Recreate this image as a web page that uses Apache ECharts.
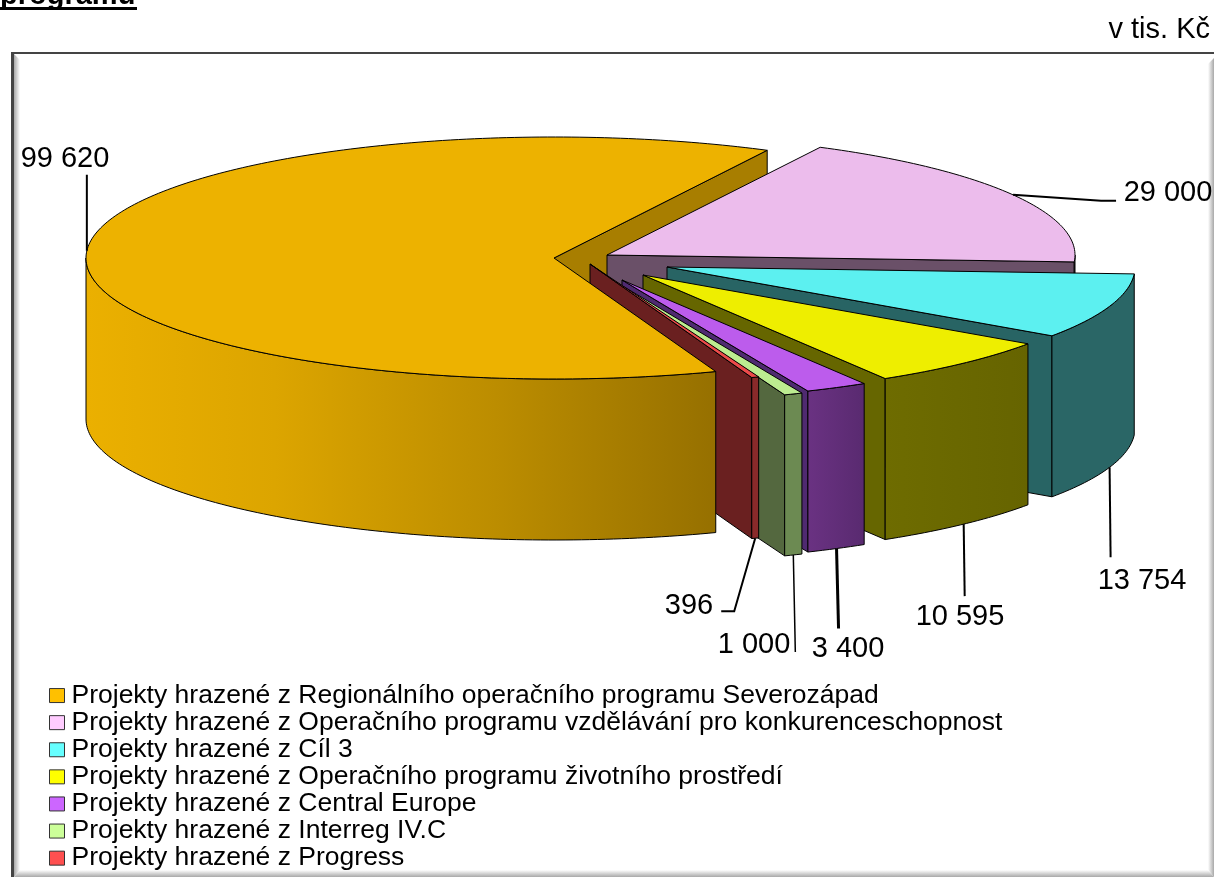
<!DOCTYPE html>
<html>
<head>
<meta charset="utf-8">
<style>
  html, body { margin: 0; padding: 0; background: #fff; overflow: hidden; }
  #main { width: 1214px; height: 877px; }
</style>
<script src="https://cdn.jsdelivr.net/npm/echarts@6/dist/echarts.min.js"></script>
</head>
<body>
<div id="main"></div>
<script>
  var categories = [
    'Projekty hrazené z Regionálního operačního programu Severozápad',
    'Projekty hrazené z Operačního programu vzdělávání pro konkurenceschopnost',
    'Projekty hrazené z Cíl 3',
    'Projekty hrazené z Operačního programu životního prostředí',
    'Projekty hrazené z Central Europe',
    'Projekty hrazené z Interreg IV.C',
    'Projekty hrazené z Progress'
  ];
  var values = [99620, 29000, 13754, 10595, 3400, 1000, 396];

  // colours: legend box, top face, cut face, outer wall left/right
  var legendColors = ['#FFC000', '#FFCCFF', '#66FFFF', '#FFFF00', '#CC66FF', '#CCFF99', '#FF5050'];
  var topColors = ['#EDB200', '#ECBCEC', '#5CF0F0', '#EEEE00', '#BC5CEC', '#BCEC90', '#EC4A4A'];
  var faceColors = ['#A87E00', '#6A5068', '#286464', '#666600', '#4F2A70', '#54683F', '#6A2020'];
  var wallColors = [
    ['#EBB000', '#967000'], ['#6A5068', '#6A5068'], ['#2A6666', '#2A6666'], ['#6E6C00', '#666400'],
    ['#6A3282', '#592A70'], ['#6C8A52', '#6C8A52'], ['#8A2A2A', '#8A2A2A']
  ];

  // pie geometry
  var RX = 468, RY = 121, DEPTH = 161;
  var START_PARAM = 62.9; // where the second slice starts, degrees, going clockwise
  var apexes = [[554, 258], [607, 255], [667, 267], [643, 275], [622, 280], [616, 282], [590, 264]];

  // leader lines (offset from the point on the rim) and label centres
  var leaders = [
    [[0, -76]],
    [[88, 6], [103, 6]],
    [[1, 90]],
    [[1, 72]],
    [[2, 80]],
    [[2, 97]],
    [[-21, 73], [-34, 73]]
  ];
  var leaderWidths = [2, 2, 2, 2, 3, 1.5, 2];
  var labelCenters = [[65, 159], [1168, 193], [1142, 581], [960, 617], [848, 649], [754, 645], [689, 606]];

  var total = values.reduce(function (a, b) { return a + b; }, 0);

  // param angles of each slice, from values; [from, to] going clockwise
  var ranges = [];
  var cur = START_PARAM;
  for (var i = 1; i < values.length; i++) {
    ranges[i] = [cur, cur - values[i] / total * 360];
    cur = ranges[i][1];
  }
  ranges[0] = [cur, cur - values[0] / total * 360];

  function rimPoint(apex, deg, drop) {
    var r = deg * Math.PI / 180;
    return [apex[0] + RX * Math.cos(r), apex[1] - RY * Math.sin(r) + (drop || 0)];
  }

  function arcPoints(apex, from, to, drop) {
    var pts = [];
    var n = Math.max(2, Math.ceil(Math.abs(to - from)));
    for (var k = 0; k <= n; k++) pts.push(rimPoint(apex, from + (to - from) * k / n, drop));
    return pts;
  }

  function poly(points, fill) {
    return {
      type: 'polygon',
      shape: { points: points },
      style: { fill: fill, stroke: '#000', lineWidth: 1 }
    };
  }

  function formatValue(v) {
    return String(v).replace(/\B(?=(\d{3})+$)/g, ' ');
  }

  function cutFace(idx) {
    var apex = apexes[idx];
    var end = ranges[idx][1];
    return poly([apex, rimPoint(apex, end), rimPoint(apex, end, DEPTH), [apex[0], apex[1] + DEPTH]], faceColors[idx]);
  }

  function sliceItem(idx) {
    var apex = apexes[idx];
    var from = ranges[idx][0], to = ranges[idx][1];
    var children = [];
    if (idx !== 0) children.push(cutFace(idx));

    // outer wall: only the part of the rim facing the viewer (param -180..0)
    var wFrom = Math.min(from, 0), wTo = Math.max(to, -180);
    var upper = arcPoints(apex, wFrom, wTo, 0);
    var lower = arcPoints(apex, wTo, wFrom, DEPTH);
    var xs = upper.map(function (p) { return p[0]; });
    var x0 = Math.min.apply(null, xs), x1 = Math.max.apply(null, xs);
    children.push(poly(upper.concat(lower), {
      type: 'linear', x: x0, y: 0, x2: x1, y2: 0, global: true,
      colorStops: idx === 0
        ? [{ offset: 0, color: wallColors[0][0] }, { offset: 0.3, color: '#DCA500' }, { offset: 0.65, color: '#BC8D00' }, { offset: 1, color: wallColors[0][1] }]
        : [{ offset: 0, color: wallColors[idx][0] }, { offset: 1, color: wallColors[idx][1] }]
    }));

    // top face
    children.push(poly([apex].concat(arcPoints(apex, from, to, 0)), topColors[idx]));

    // leader and value label
    var mid = (from + to) / 2;
    var onFront = Math.sin(mid * Math.PI / 180) < 0 && idx !== 0;
    var anchor = rimPoint(apex, mid, onFront ? DEPTH : 0);
    var line = [anchor].concat(leaders[idx].map(function (o) { return [anchor[0] + o[0], anchor[1] + o[1]]; }));
    children.push({
      type: 'polyline',
      shape: { points: line },
      style: { fill: 'none', stroke: '#000', lineWidth: leaderWidths[idx] }
    });
    children.push({
      type: 'text',
      style: {
        text: formatValue(values[idx]), x: labelCenters[idx][0], y: labelCenters[idx][1],
        align: 'center', verticalAlign: 'middle',
        font: '29px "Liberation Sans", Arial, sans-serif', fill: '#000'
      }
    });
    return { type: 'group', children: children };
  }

  // draw order: main slice's cut face, then the exploded slices, main slice last
  var series = [{
    name: 'cut',
    type: 'custom',
    coordinateSystem: 'none',
    silent: true,
    data: [[values[0]]],
    renderItem: function () { return cutFace(0); }
  }];
  [1, 2, 3, 4, 5, 6, 0].forEach(function (idx) {
    series.push({
      name: categories[idx],
      type: 'custom',
      coordinateSystem: 'none',
      silent: true,
      itemStyle: { color: legendColors[idx] },
      data: [[values[idx]]],
      renderItem: function () { return sliceItem(idx); }
    });
  });

  function band(points, x, y, x2, y2) {
    return {
      type: 'polygon', silent: true, z: 0,
      shape: { points: points },
      style: {
        fill: {
          type: 'linear', x: x, y: y, x2: x2, y2: y2,
          colorStops: [{ offset: 0, color: '#A8A8A8' }, { offset: 1, color: '#FFFFFF' }]
        }
      }
    };
  }

  var chart = echarts.init(document.getElementById('main'), null, { renderer: 'canvas' });
  chart.setOption({
    animation: false,
    backgroundColor: '#fff',
    legend: {
      data: categories,
      orient: 'vertical',
      left: 49,
      top: 682,
      padding: 0,
      itemGap: 0,
      itemWidth: 15,
      itemHeight: 14,
      selectedMode: false,
      icon: 'rect',
      itemStyle: { borderColor: '#333', borderWidth: 1 },
      textStyle: { color: '#000', fontSize: 26.5, lineHeight: 27.1, fontFamily: '"Liberation Sans", Arial, sans-serif', padding: [0, 0, 0, 2] }
    },
    graphic: [
      band([[14, 54], [20, 60], [20, 870], [14, 877]], 0, 0, 1, 0),
      band([[1214, 58], [1208, 64], [1208, 870], [1214, 877]], 1, 0, 0, 0),
      band([[14, 877], [20, 870], [1208, 870], [1214, 877]], 0, 1, 0, 0),
      { type: 'rect', silent: true, shape: { x: 11, y: 52, width: 3, height: 825 }, style: { fill: '#444' } },
      { type: 'rect', silent: true, shape: { x: 11, y: 52, width: 1203, height: 2 }, style: { fill: '#444' } },
      {
        type: 'text', silent: true,
        style: { text: 'programu', x: 0, y: 10, verticalAlign: 'bottom', align: 'left', font: 'bold 29px "Liberation Sans", Arial, sans-serif', fill: '#000' }
      },
      { type: 'rect', silent: true, shape: { x: 0, y: 7, width: 137, height: 3 }, style: { fill: '#000' } },
      {
        type: 'text', silent: true,
        style: { text: 'v tis. Kč', x: 1210, y: 30, align: 'right', verticalAlign: 'middle', font: '29px "Liberation Sans", Arial, sans-serif', fill: '#000' }
      }
    ],
    series: series
  });
</script>
</body>
</html>
